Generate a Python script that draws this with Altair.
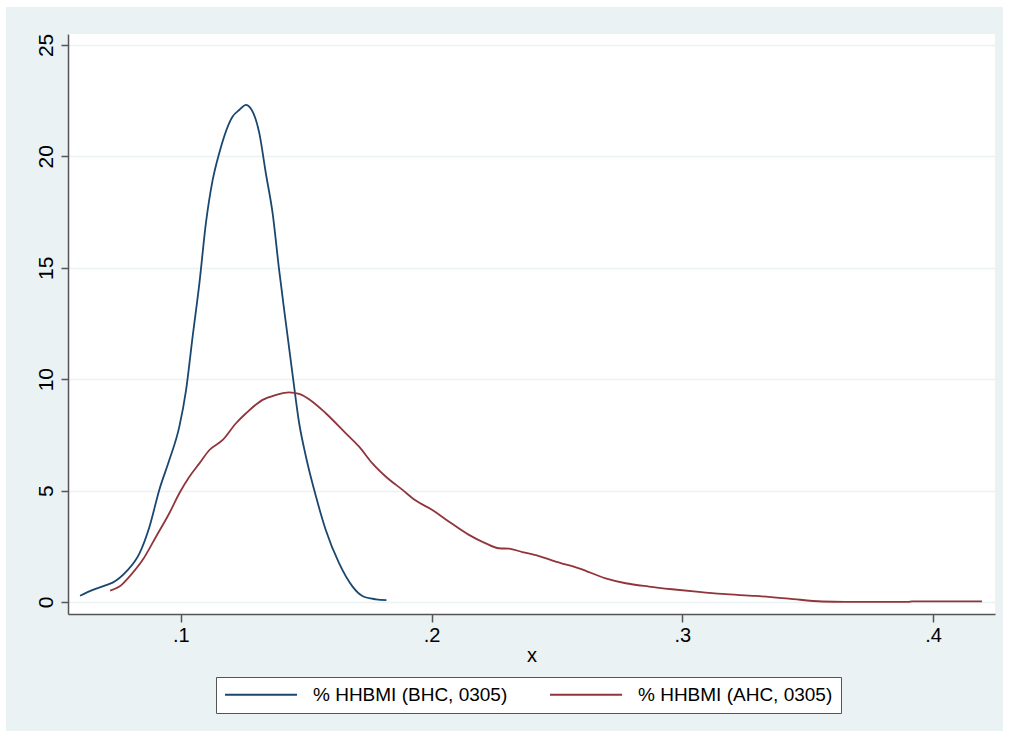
import altair as alt
import pandas as pd

# ---- data ----
bhc_x = [0.0598, 0.0649, 0.0702, 0.0728, 0.0782, 0.0835, 0.0875, 0.0914, 0.0954, 0.0994,
         0.1021, 0.1047, 0.1074, 0.1100, 0.1127, 0.1153, 0.1206, 0.1233, 0.1260, 0.1273,
         0.1313, 0.1339, 0.1366, 0.1392, 0.1419, 0.1445, 0.1472, 0.1499, 0.1539, 0.1578,
         0.1631, 0.1685, 0.1724, 0.1778, 0.1820]
bhc_y = [0.28, 0.54, 0.76, 0.87, 1.36, 2.18, 3.38, 5.03, 6.37, 7.87,
         9.52, 11.91, 14.30, 17.00, 18.94, 20.14, 21.78, 22.08, 22.31, 22.23,
         21.04, 19.24, 17.45, 14.90, 12.51, 10.26, 8.02, 6.52, 4.73, 3.23,
         1.74, 0.69, 0.27, 0.12, 0.08]

ahc_x = [0.0718, 0.0755, 0.0795, 0.0848, 0.0901, 0.0954, 0.0994, 0.1034, 0.1074, 0.1114,
         0.1167, 0.1220, 0.1260, 0.1326, 0.1379, 0.1432, 0.1472, 0.1525, 0.1578, 0.1658,
         0.1711, 0.1764, 0.1818, 0.1884, 0.1937, 0.2003, 0.2070, 0.2149, 0.2216, 0.2269,
         0.2309, 0.2362, 0.2428, 0.2495, 0.2588, 0.2694, 0.2774, 0.2867, 0.2959, 0.3066,
         0.3159, 0.3292, 0.3424, 0.3557, 0.3650, 0.3902, 0.3916, 0.4195]
ahc_y = [0.51, 0.69, 1.14, 1.89, 2.93, 3.98, 4.88, 5.62, 6.22, 6.82,
         7.27, 8.02, 8.47, 9.07, 9.29, 9.41, 9.34, 8.99, 8.47, 7.57,
         6.97, 6.22, 5.62, 5.03, 4.55, 4.13, 3.60, 3.01, 2.63, 2.41,
         2.39, 2.24, 2.06, 1.81, 1.51, 1.06, 0.84, 0.69, 0.57, 0.45,
         0.36, 0.27, 0.15, 0.02, 0.0, 0.0, 0.03, 0.03]

series_names = ["% HHBMI (BHC, 0305)", "% HHBMI (AHC, 0305)"]
series_colors = ["#1a476f", "#90353b"]
x_ticks = [0.1, 0.2, 0.3, 0.4]
y_ticks = [0, 5, 10, 15, 20, 25]

df = pd.concat([
    pd.DataFrame({"x": bhc_x, "y": bhc_y, "series": series_names[0], "order": range(len(bhc_x))}),
    pd.DataFrame({"x": ahc_x, "y": ahc_y, "series": series_names[1], "order": range(len(ahc_x))}),
])

FONT = "Liberation Sans"

lines = alt.Chart(df).mark_line(strokeWidth=1.8, clip=True, interpolate="monotone").encode(
    x=alt.X("x:Q",
            scale=alt.Scale(domain=[0.055, 0.4247], nice=False, zero=False),
            axis=alt.Axis(values=x_ticks, labelExpr="substring(format(datum.value, '.1f'), 1)",
                          title="x", grid=False, tickSize=8, labelPadding=3,
                          labelFontSize=20, titleFontSize=20, titleFontWeight="normal",
                          titlePadding=0, labelFlush=False)),
    y=alt.Y("y:Q",
            scale=alt.Scale(domain=[-0.54, 25.49], nice=False, zero=False),
            axis=alt.Axis(values=y_ticks, format="d", title=None, grid=True,
                          gridColor="#eaf2f3", gridWidth=1.5, tickSize=7,
                          labelAngle=270, labelAlign="center", labelBaseline="alphabetic",
                          labelPadding=9, labelFontSize=21)),
    color=alt.Color("series:N",
                    scale=alt.Scale(domain=series_names, range=series_colors),
                    sort=series_names,
                    legend=alt.Legend(title=None, orient="none", legendX=148, legendY=643,
                                      direction="horizontal", symbolType="stroke",
                                      symbolSize=5184, symbolStrokeWidth=2, clipHeight=19,
                                      labelFontSize=19, labelOffset=15, columnPadding=41,
                                      labelLimit=500, padding=8,
                                      strokeColor="#555555", fillColor="#ffffff",
                                      labelColor="#000000", labelFont=FONT)),
    detail="series:N",
    order="order:Q",
)

border = alt.Chart(alt.Data(values=[{}])).mark_rect(
    fill="transparent", stroke="#ffffff", strokeWidth=14
).encode(x=alt.value(-69), x2=alt.value(942), y=alt.value(-34), y2=alt.value(704))

chart = alt.layer(border, lines).properties(
    width=927, height=580,
    autosize=alt.AutoSizeParams(type="none"),
    padding={"left": 68, "top": 34, "right": 14, "bottom": 124},
    background="#eaf2f3",
).configure_view(
    fill="#ffffff", stroke=None
).configure_axis(
    labelFont=FONT, titleFont=FONT, labelColor="#000000", titleColor="#000000",
    domainColor="#555555", domainWidth=1.5, tickColor="#555555", tickWidth=1.5,
)

chart.save("out.html", embed_options={"renderer": "svg", "actions": False})
